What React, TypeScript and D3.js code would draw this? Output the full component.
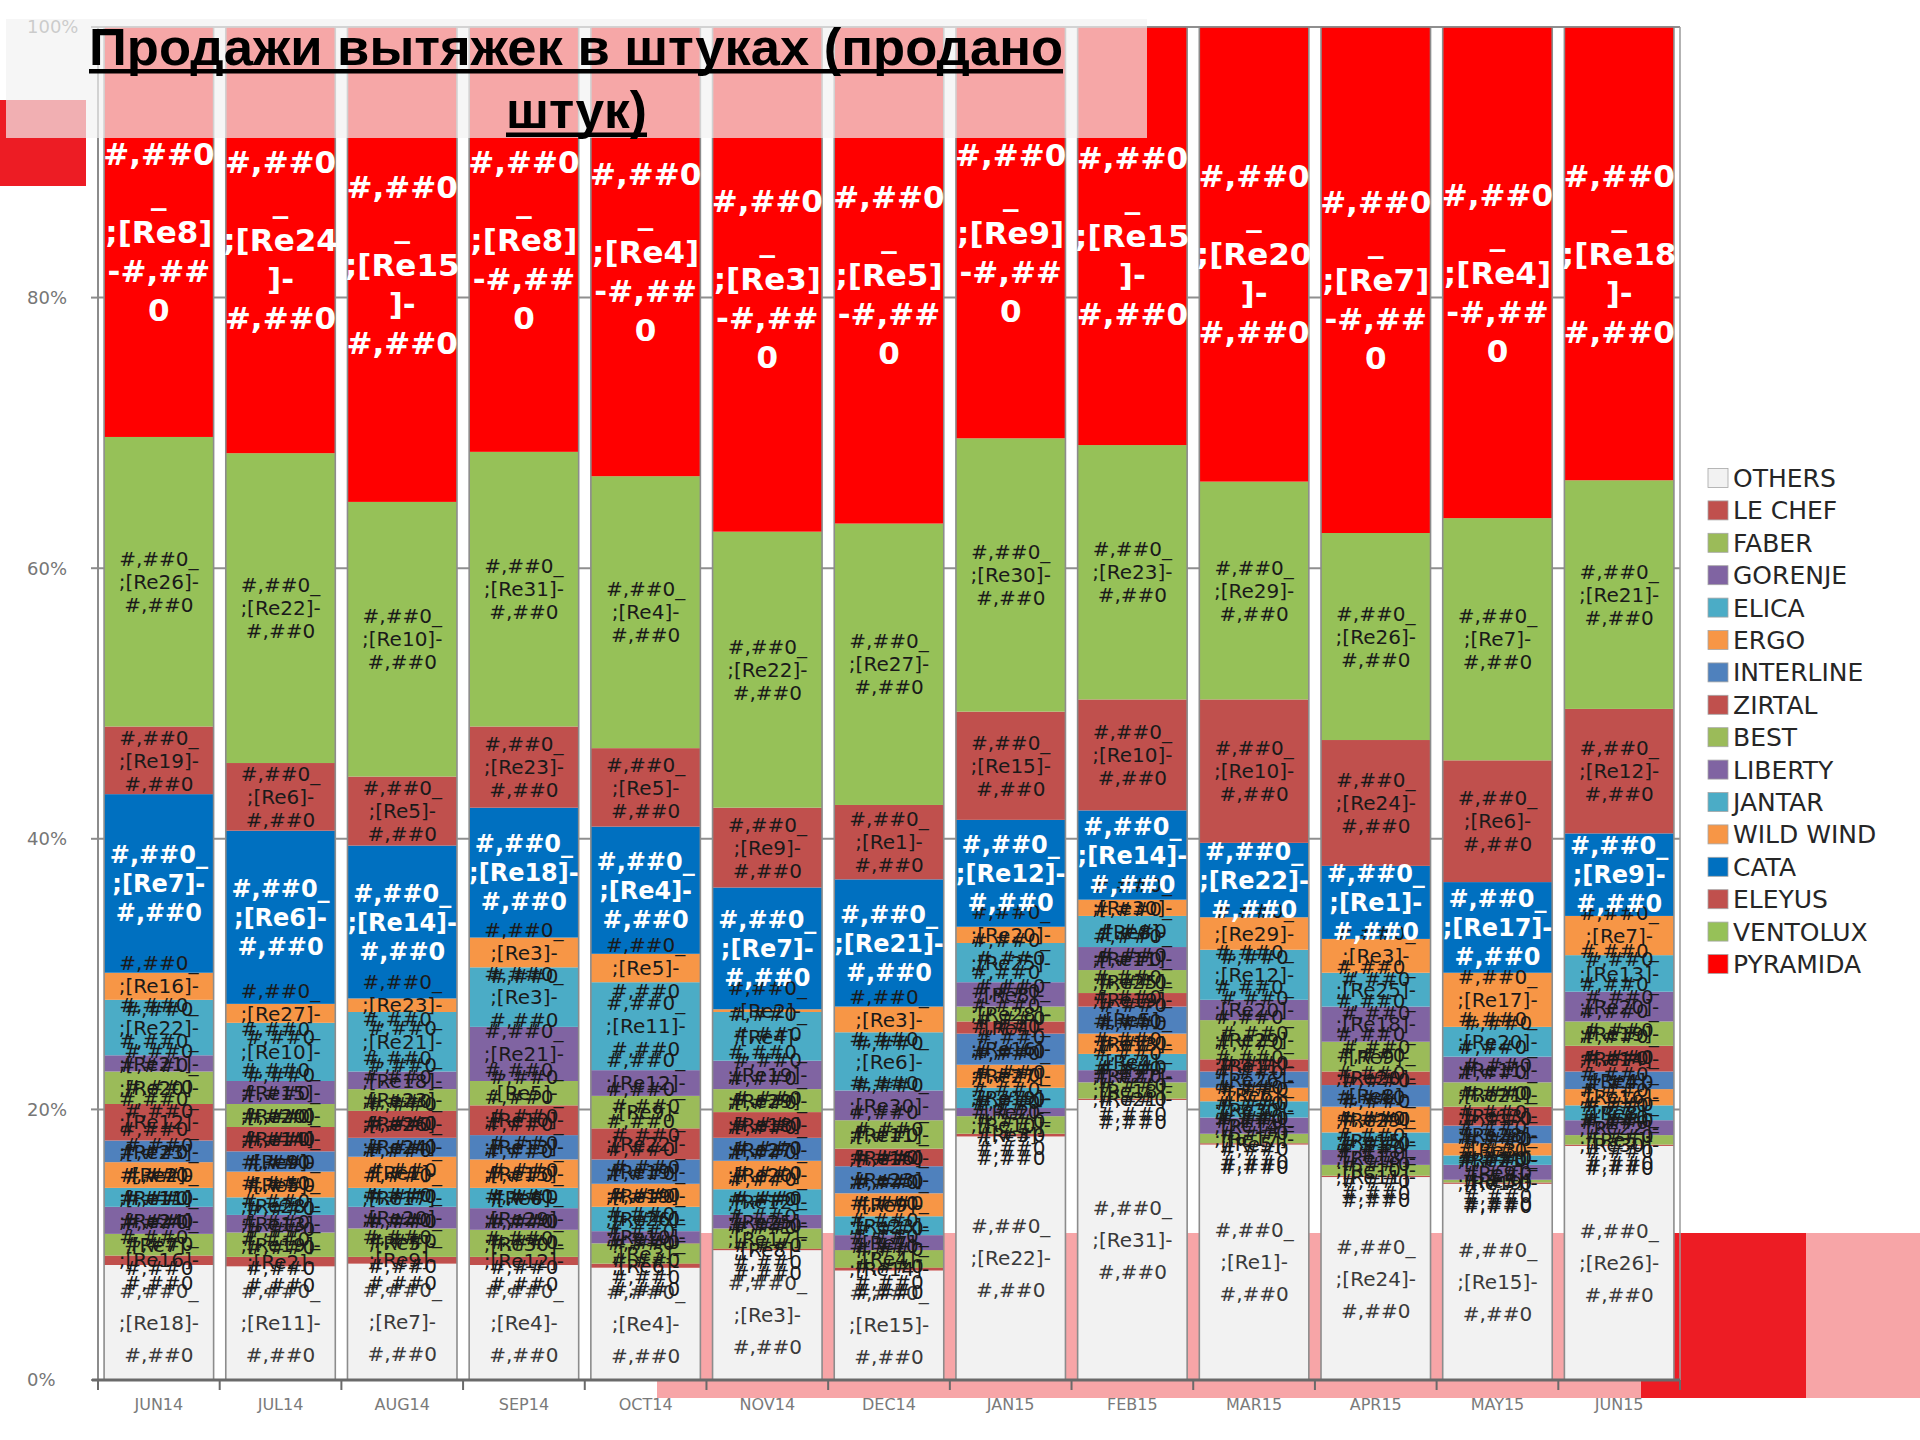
import React from "react";
import * as d3 from "d3";

const MONTHS = ["JUN14", "JUL14", "AUG14", "SEP14", "OCT14", "NOV14", "DEC14", "JAN15", "FEB15", "MAR15", "APR15", "MAY15", "JUN15"];

// stacked bottom -> top
const BRANDS = ["OTHERS", "LE CHEF", "FABER", "GORENJE", "ELICA", "ERGO", "INTERLINE", "ZIRTAL", "BEST", "LIBERTY", "JANTAR", "WILD WIND", "CATA", "ELEYUS", "VENTOLUX", "PYRAMIDA"];
const BRAND_COLORS = ["#f2f2f2", "#c0504d", "#9bbb59", "#8064a2", "#4bacc6", "#f79646", "#4f81bd", "#c0504d", "#9bbb59", "#8064a2", "#4bacc6", "#f79646", "#0070c0", "#c0504d", "#96c158", "#ff0000"];

// share of units sold, %
const OTHERS = [8.5, 8.4, 8.6, 8.5, 8.3, 9.6, 8.1, 18.0, 20.7, 17.4, 15.0, 14.5, 17.3];
const LE_CHEF = [0.7, 0.7, 0.5, 0.6, 0.3, 0.1, 0.2, 0.2, 0.1, 0.1, 0.1, 0.1, 0.1];
const FABER = [1.6, 1.8, 2.1, 2.0, 1.5, 1.5, 1.3, 1.3, 1.2, 0.7, 0.8, 0.2, 0.7];
const GORENJE = [2.0, 1.3, 1.6, 1.6, 0.9, 1.0, 1.1, 0.6, 0.9, 1.2, 1.1, 1.1, 1.1];
const ELICA = [1.4, 1.3, 1.4, 1.5, 1.8, 1.9, 1.4, 1.5, 1.2, 1.2, 1.3, 0.7, 1.1];
const ERGO = [1.9, 1.9, 2.3, 2.1, 1.7, 2.1, 1.7, 1.7, 1.5, 1.0, 1.9, 0.9, 1.2];
const INTERLINE = [1.6, 1.5, 1.4, 1.8, 1.8, 1.7, 2.0, 2.3, 2.0, 1.2, 1.6, 1.3, 1.3];
const ZIRTAL = [2.7, 1.8, 2.0, 2.2, 2.3, 1.9, 1.3, 0.9, 1.0, 0.9, 1.0, 1.4, 1.9];
const BEST = [2.4, 1.7, 1.6, 1.8, 2.4, 1.7, 2.1, 1.1, 1.7, 2.9, 2.2, 1.8, 1.8];
const LIBERTY = [1.2, 1.7, 1.3, 4.0, 1.9, 2.1, 2.2, 1.8, 1.7, 1.5, 2.6, 1.9, 2.2];
const JANTAR = [4.1, 4.3, 4.4, 4.4, 6.5, 3.6, 4.3, 2.9, 2.3, 3.7, 2.5, 2.2, 2.7];
const WILD_WIND = [2.0, 1.4, 1.0, 2.2, 2.1, 0.2, 1.9, 1.2, 1.2, 2.4, 2.5, 4.0, 2.9];
const CATA = [13.2, 12.8, 11.3, 9.6, 9.4, 9.0, 9.4, 7.9, 6.6, 5.5, 5.4, 6.7, 6.1];
const ELEYUS = [5.0, 5.0, 5.1, 6.0, 5.8, 5.9, 5.5, 8.0, 8.2, 10.6, 9.3, 9.0, 9.2];
const VENTOLUX = [21.4, 22.9, 20.3, 20.3, 20.1, 20.4, 20.8, 20.2, 18.8, 16.1, 15.3, 17.9, 16.9];
const PYRAMIDA = [30.3, 31.5, 35.1, 31.4, 33.2, 37.3, 36.7, 30.4, 30.9, 33.6, 37.4, 36.3, 33.5];

// the broken "[Re..]" number shown in each data label
const RE_OTHERS = [18, 11, 7, 4, 4, 3, 15, 22, 31, 1, 24, 15, 26];
const RE_LE_CHEF = [16, 2, 9, 12, 6, 8, 14, 3, 21, 5, 11, 19, 30];
const RE_FABER = [7, 19, 5, 30, 3, 17, 4, 10, 18, 17, 10, 5, 5];
const RE_GORENJE = [24, 13, 20, 29, 10, 25, 7, 2, 27, 14, 18, 9, 22];
const RE_ELICA = [11, 28, 17, 6, 26, 12, 23, 19, 4, 30, 15, 21, 8];
const RE_ERGO = [2, 5, 1, 15, 19, 20, 9, 27, 13, 6, 29, 3, 16];
const RE_INTERLINE = [23, 9, 24, 13, 19, 27, 23, 16, 5, 26, 8, 28, 4];
const RE_ZIRTAL = [12, 14, 26, 10, 22, 18, 16, 4, 19, 11, 20, 13, 14];
const RE_BEST = [20, 20, 23, 5, 9, 29, 11, 28, 25, 29, 9, 21, 19];
const RE_LIBERTY = [21, 15, 18, 21, 12, 19, 30, 8, 11, 20, 18, 11, 20];
const RE_JANTAR = [22, 10, 21, 3, 11, 4, 6, 25, 8, 12, 25, 20, 13];
const RE_WILD_WIND = [16, 27, 23, 3, 5, 2, 3, 20, 30, 29, 3, 17, 7];
const RE_CATA = [7, 6, 14, 18, 4, 7, 21, 12, 14, 22, 1, 17, 9];
const RE_ELEYUS = [19, 6, 5, 23, 5, 9, 1, 15, 10, 10, 24, 6, 12];
const RE_VENTOLUX = [26, 22, 10, 31, 4, 22, 27, 30, 23, 29, 26, 7, 21];
const RE_PYRAMIDA = [8, 24, 15, 8, 4, 3, 5, 9, 15, 20, 7, 4, 18];

const Y_TICKS = [0, 0.2, 0.4, 0.6, 0.8, 1];

const TITLE_1 = "Продажи вытяжек в штуках (продано";
const TITLE_2 = "штук)";

const VALUES = [OTHERS, LE_CHEF, FABER, GORENJE, ELICA, ERGO, INTERLINE, ZIRTAL, BEST, LIBERTY, JANTAR, WILD_WIND, CATA, ELEYUS, VENTOLUX, PYRAMIDA];
const CODES = [RE_OTHERS, RE_LE_CHEF, RE_FABER, RE_GORENJE, RE_ELICA, RE_ERGO, RE_INTERLINE, RE_ZIRTAL, RE_BEST, RE_LIBERTY, RE_JANTAR, RE_WILD_WIND, RE_CATA, RE_ELEYUS, RE_VENTOLUX, RE_PYRAMIDA];

const PLOT = { left: 98, right: 1680, top: 27, bottom: 1380 };

function labelLines(brand: string, re: number) {
  if (brand === "PYRAMIDA") {
    return re < 10
      ? ["#,##0", "_", `;[Re${re}]`, "-#,##", "0"]
      : ["#,##0", "_", `;[Re${re}`, "]-", "#,##0"];
  }
  return ["#,##0_", `;[Re${re}]-`, "#,##0"];
}

function labelStyle(brand: string) {
  if (brand === "PYRAMIDA") return { size: 31, gap: 39, fill: "#ffffff", weight: 700 };
  if (brand === "CATA") return { size: 24, gap: 29, fill: "#ffffff", weight: 700 };
  if (brand === "OTHERS") return { size: 20, gap: 32, fill: "#3a3a3a", weight: 400 };
  return { size: 20, gap: 23, fill: "#1a1a1a", weight: 400 };
}

export default function App() {
  const rows = MONTHS.map((m, i) => {
    const r: any = { month: m };
    BRANDS.forEach((b, k) => (r[b] = VALUES[k][i]));
    return r;
  });
  const series = d3.stack<any>().keys(BRANDS).offset(d3.stackOffsetExpand)(rows);

  const x = d3.scaleBand<string>().domain(MONTHS).range([PLOT.left, PLOT.right]).paddingInner(0.1).paddingOuter(0.05);
  const y = d3.scaleLinear().domain([0, 1]).range([PLOT.bottom, PLOT.top]);
  const step = x.step();
  const fmt = d3.format(".0%");

  const legendY = d3.scalePoint<string>().domain(BRANDS).range([478, 964]);

  return (
    <div style={{ position: "absolute", left: 0, top: 0 }}>
      <svg width={1920} height={1440} style={{ display: "block", background: "#fff" }}>
        {/* slide decoration behind the chart */}
        <rect x={657} y={1233} width={1263} height={165} fill="#f7a5a7" />
        <rect x={1641} y={1233} width={165} height={165} fill="#ed1c24" />
        <rect x={0} y={100} width={86} height={86} fill="#ed1c24" />

        {/* gridlines */}
        {Y_TICKS.slice(1).map(t => (
          <line key={t} x1={PLOT.left} x2={PLOT.right} y1={y(t)} y2={y(t)} stroke="#8f8f8f" strokeWidth={2} />
        ))}

        {/* bars */}
        {series.map((s, k) => (
          <g key={s.key}>
            {s.map((d, i) => (
              <rect
                key={i}
                x={x(MONTHS[i])}
                width={x.bandwidth()}
                y={y(d[1])}
                height={Math.max(0, y(d[0]) - y(d[1]))}
                fill={BRAND_COLORS[k]}
              />
            ))}
          </g>
        ))}
        {MONTHS.map(m => (
          <rect key={m} x={x(m)} width={x.bandwidth()} y={y(1)} height={y(0) - y(1)} fill="none" stroke="#8c8c8c" strokeWidth={1.6} />
        ))}

        {/* data labels */}
        {series.map((s, k) => {
          const st = labelStyle(s.key);
          return (
            <g key={s.key} fontFamily="DejaVu Sans, Verdana, sans-serif" fontSize={st.size} fontWeight={st.weight} fill={st.fill} textAnchor="middle">
              {s.map((d, i) => {
                const cx = (x(MONTHS[i]) as number) + x.bandwidth() / 2;
                const cy = (y(d[0]) + y(d[1])) / 2;
                const lines = labelLines(s.key, CODES[k][i]);
                return lines.map((l, j) => (
                  <text key={i + "-" + j} x={cx} y={cy + (j - (lines.length - 1) / 2) * st.gap} dy="0.36em">
                    {l}
                  </text>
                ));
              })}
            </g>
          );
        })}

        {/* axes */}
        <line x1={PLOT.right} x2={PLOT.right} y1={y(1)} y2={y(0)} stroke="#9a9a9a" strokeWidth={1.5} />
        <line x1={PLOT.left} x2={PLOT.left} y1={y(1)} y2={y(0)} stroke="#8c8c8c" strokeWidth={2} />
        {Y_TICKS.map(t => (
          <g key={t}>
            <line x1={PLOT.left - 7} x2={PLOT.left} y1={y(t)} y2={y(t)} stroke="#8c8c8c" strokeWidth={2} />
            <text x={27} y={y(t)} dy="0.36em" fontFamily="DejaVu Sans, sans-serif" fontSize={18} fill="#767676">
              {fmt(t)}
            </text>
          </g>
        ))}
        <line x1={PLOT.left - 6} x2={PLOT.right} y1={y(0)} y2={y(0)} stroke="#6a6a6a" strokeWidth={3} />
        {d3.range(MONTHS.length + 1).map(k => (
          <line key={k} x1={PLOT.left + k * step} x2={PLOT.left + k * step} y1={y(0)} y2={y(0) + 10} stroke="#6a6a6a" strokeWidth={2} />
        ))}
        {MONTHS.map(m => (
          <text key={m} x={(x(m) as number) + x.bandwidth() / 2} y={1404} dy="0.36em" textAnchor="middle" fontFamily="DejaVu Sans, sans-serif" fontSize={16} fill="#7a7a7a">
            {m}
          </text>
        ))}

        {/* legend */}
        {BRANDS.map((b, k) => (
          <g key={b} transform={`translate(1708,${legendY(b)})`}>
            <rect x={0} y={-9.5} width={20} height={19} fill={BRAND_COLORS[k]} stroke="#a6a6a6" strokeWidth={0.8} />
            <text x={25} y={0} dy="0.36em" fontFamily="DejaVu Sans, Verdana, sans-serif" fontSize={25} fill="#262626">
              {b}
            </text>
          </g>
        ))}

        {/* title plate */}
        <rect x={6} y={19} width={1141} height={119} fill="#f2f2f2" opacity={0.69} />
        <g fontFamily="Liberation Sans Narrow, Liberation Sans, Arial, sans-serif" fontWeight={700} fontSize={52} fill="#000">
          <text x={89} y={65} textLength={974} lengthAdjust="spacingAndGlyphs">
            {TITLE_1}
          </text>
          <text x={506} y={128} textLength={141} lengthAdjust="spacingAndGlyphs">
            {TITLE_2}
          </text>
        </g>
        <rect x={89} y={69} width={974} height={4.5} fill="#000" />
        <rect x={506} y={132.5} width={141} height={4.5} fill="#000" />
      </svg>
    </div>
  );
}
